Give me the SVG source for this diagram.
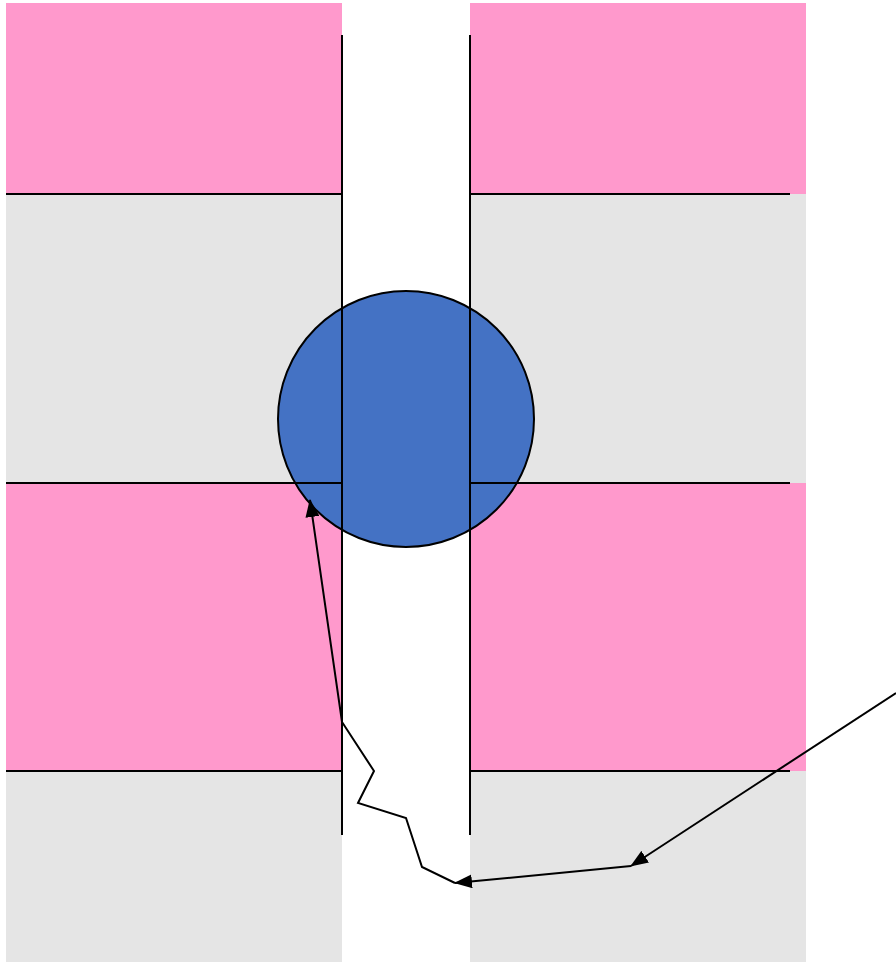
<svg xmlns="http://www.w3.org/2000/svg" width="896" height="962" viewBox="0 0 896 962">
<style>
.pink{fill:#FF99CC}
.grey{fill:#E5E5E5}
.ln{stroke:#000;stroke-width:2;fill:none}
.cn{stroke:#000;stroke-width:2;fill:none}
</style>
<defs>
<marker id="arr" viewBox="0 0 18 14" refX="17" refY="7" markerWidth="18" markerHeight="14" markerUnits="userSpaceOnUse" orient="auto">
<path d="M0,0 L18,7 L0,14 z" fill="#000"/>
</marker>
</defs>
<rect width="896" height="962" fill="#fff"/>
<g id="bands">
<rect class="pink" x="6" y="3" width="336" height="191"/>
<rect class="pink" x="470" y="3" width="336" height="191"/>
<rect class="grey" x="6" y="194" width="336" height="289"/>
<rect class="grey" x="470" y="194" width="336" height="289"/>
<rect class="pink" x="6" y="483" width="336" height="288"/>
<rect class="pink" x="470" y="483" width="336" height="288"/>
<rect class="grey" x="6" y="771" width="336" height="191"/>
<rect class="grey" x="470" y="771" width="336" height="191"/>
</g>
<g id="circle">
<circle cx="406" cy="419" r="128" fill="#4472C4" stroke="#000" stroke-width="2"/>
</g>
<g id="walls">
<line class="ln" x1="6" y1="194" x2="342" y2="194"/>
<line class="ln" x1="470" y1="194" x2="790" y2="194"/>
<line class="ln" x1="6" y1="483" x2="342" y2="483"/>
<line class="ln" x1="470" y1="483" x2="790" y2="483"/>
<line class="ln" x1="6" y1="771" x2="342" y2="771"/>
<line class="ln" x1="470" y1="771" x2="790" y2="771"/>
<line class="ln" x1="342" y1="35" x2="342" y2="835"/>
<line class="ln" x1="470" y1="35" x2="470" y2="835"/>
</g>
<g id="connectors">
<line class="cn" x1="896" y1="693" x2="631" y2="866" marker-end="url(#arr)"/>
<line class="cn" x1="631" y1="866" x2="455" y2="883" marker-end="url(#arr)"/>
<polyline class="cn" points="455,883 422,867 406,818 358,803 374,771 342,722 310,500" marker-end="url(#arr)"/>
</g>
</svg>
